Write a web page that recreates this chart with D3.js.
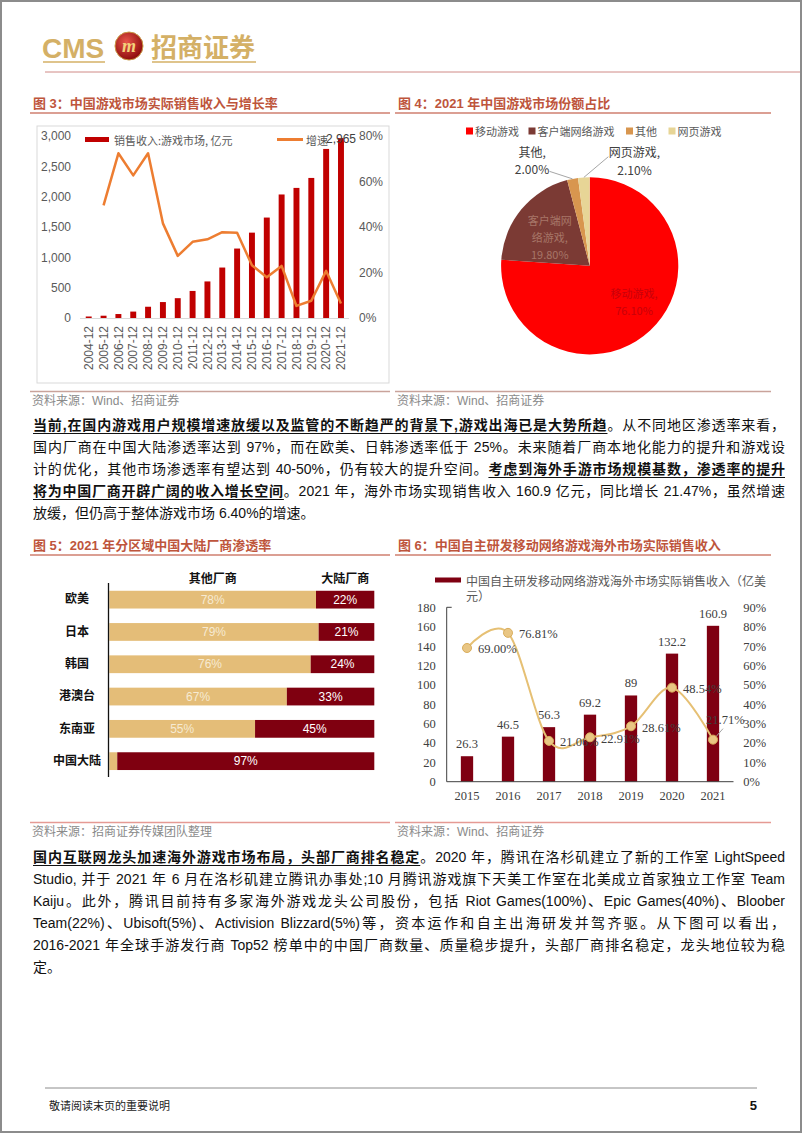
<!DOCTYPE html>
<html>
<head>
<meta charset="utf-8">
<script src="https://cdn.jsdelivr.net/npm/d3@7"></script>
<style>
  body { margin: 0; background: #fff; }
  #page { position: relative; width: 802px; height: 1133px; overflow: hidden; }
  #page svg { position: absolute; left: 0; top: 0; }
  .para { position: absolute; left: 33px; width: 752px; height: 22px; line-height: 22px;
          font-family: "Liberation Sans", "Noto Sans CJK SC", sans-serif; font-size: 14px; color: #111;
          text-align: justify; text-align-last: justify; }
  .para.last { text-align-last: left; }
  .para b { font-weight: bold; text-decoration: underline; text-underline-offset: 3px; }
</style>
</head>
<body>
<div id="page"></div>
<script>
// chart 3: market revenue & growth
const revYears = ["2004-12","2005-12","2006-12","2007-12","2008-12","2009-12","2010-12","2011-12","2012-12",
                  "2013-12","2014-12","2015-12","2016-12","2017-12","2018-12","2019-12","2020-12","2021-12"];
const revenue = [24.7, 37.7, 65.4, 105.7, 185.6, 262.8, 326.7, 446.1, 602.8, 831.7, 1144.8, 1407.0,
                 1655.7, 2036.1, 2144.4, 2308.8, 2786.9, 2965.1];
const growthRate = [null, 49.5, 72.4, 62.7, 72.4, 41.6, 27.3, 33.5, 34.6, 37.7, 37.5, 23.2, 17.9, 22.9, 5.3, 7.6, 20.7, 6.4];
const revTicks = [0, 500, 1000, 1500, 2000, 2500, 3000];
const rateTicks = [0, 20, 40, 60, 80];

// chart 4: market share 2021
const shareNames = ["移动游戏", "客户端网络游戏", "其他", "网页游戏"];
const shareValues = [76.10, 19.80, 2.00, 2.10];
const shareColors = ["#ff0000", "#7b3a34", "#d8964f", "#e7d596"];

// chart 5: penetration by region
const regions = ["欧美", "日本", "韩国", "港澳台", "东南亚", "中国大陆"];
const otherShare = [78, 79, 76, 67, 55, 3];
const mainlandShare = [22, 21, 24, 33, 45, 97];

// chart 6: overseas revenue
const osYears = ["2015", "2016", "2017", "2018", "2019", "2020", "2021"];
const osRevenue = [26.3, 46.5, 56.3, 69.2, 89, 132.2, 160.9];
const osGrowth = [69.00, 76.81, 21.06, 22.91, 28.61, 48.54, 21.71];
const osRevTicks = [0, 20, 40, 60, 80, 100, 120, 140, 160, 180];
const osRateTicks = [0, 10, 20, 30, 40, 50, 60, 70, 80, 90];

const sans = "'Liberation Sans', 'Noto Sans CJK SC', sans-serif";
const cjk = "'Noto Sans CJK SC', sans-serif";
const serif = "'Liberation Serif', 'Noto Sans CJK SC', serif";
const titleColor = "#be553c";

const page = d3.select("#page");
const svg = page.append("svg").attr("width", 802).attr("height", 1133);

// page frame
svg.append("rect").attr("x", 1).attr("y", 1).attr("width", 800).attr("height", 1131)
   .attr("fill", "none").attr("stroke", "#8c8c8c").attr("stroke-width", 2);

// ---------- header ----------
const gold = "#d4b066";
svg.append("text").attr("x", 42).attr("y", 58).text("CMS")
   .style("font", "bold 28px 'Liberation Sans'").attr("fill", gold);
const grad = svg.append("defs").append("radialGradient").attr("id", "logoGrad")
   .attr("cx", "40%").attr("cy", "35%").attr("r", "65%");
grad.append("stop").attr("offset", "0%").attr("stop-color", "#e8554a");
grad.append("stop").attr("offset", "100%").attr("stop-color", "#8e0d0d");
svg.append("circle").attr("cx", 129).attr("cy", 46).attr("r", 14).attr("fill", "url(#logoGrad)")
   .attr("stroke", "#c99a45").attr("stroke-width", 1);
svg.append("text").attr("x", 129).attr("y", 52).attr("text-anchor", "middle").text("m")
   .style("font", "italic bold 18px 'Liberation Serif'").attr("fill", "#f3d27a");
svg.append("text").attr("x", 151).attr("y", 57).text("招商证券")
   .style("font", "bold 26px 'Noto Sans CJK SC'").attr("fill", gold);
svg.append("line").attr("x1", 43).attr("x2", 105).attr("y1", 62).attr("y2", 62).attr("stroke", gold).attr("stroke-width", 1.5);
svg.append("line").attr("x1", 152).attr("x2", 256).attr("y1", 62).attr("y2", 62).attr("stroke", gold).attr("stroke-width", 1.5);
svg.append("line").attr("x1", 45).attr("x2", 800).attr("y1", 72).attr("y2", 72).attr("stroke", "#d08a86").attr("stroke-width", 1);

function figTitle(x, y, txt, x2) {
  svg.append("text").attr("x", x).attr("y", y).attr("dominant-baseline", "central").text(txt)
     .style("font", "bold 13px " + sans).attr("fill", titleColor);
  svg.append("line").attr("x1", x - 3).attr("x2", x2).attr("y1", y + 10).attr("y2", y + 10)
     .attr("stroke", "#cf7f6f").attr("stroke-width", 1.5);
}
function source(x, y, txt, x2, lineColor) {
  svg.append("line").attr("x1", x - 2).attr("x2", x2).attr("y1", y - 9.5).attr("y2", y - 9.5)
     .attr("stroke", lineColor).attr("stroke-width", 1.5);
  svg.append("text").attr("x", x).attr("y", y).attr("dominant-baseline", "central").text(txt)
     .style("font", "12px " + sans).attr("fill", "#8a8a8a");
}

// ---------- chart 3 ----------
figTitle(33, 103, "图 3：中国游戏市场实际销售收入与增长率", 390);
source(32, 401, "资料来源：Wind、招商证券", 390, "#c9a39b");

const g3 = svg.append("g");
g3.append("rect").attr("x", 37).attr("y", 126).attr("width", 352).attr("height", 257)
  .attr("fill", "none").attr("stroke", "#d9d9d9");

const x3 = d3.scaleBand().domain(revYears).range([81.3, 348.4]).paddingInner(0.6).paddingOuter(0.3);
const y3 = d3.scaleLinear().domain([0, 3000]).range([318, 136]);
const r3 = d3.scaleLinear().domain([0, 80]).range([318, 136]);

g3.append("g").attr("transform", "translate(71,0)")
  .call(d3.axisLeft(y3).tickValues(revTicks).tickSize(0).tickPadding(0).tickFormat(d3.format(",")))
  .call(g => g.select(".domain").remove())
  .selectAll("text").attr("fill", "#595959").style("font", "12px " + sans);

g3.append("g").attr("transform", "translate(359,0)")
  .call(d3.axisRight(r3).tickValues(rateTicks).tickSize(0).tickPadding(0).tickFormat(d => d + "%"))
  .call(g => g.select(".domain").remove())
  .selectAll("text").attr("fill", "#595959").style("font", "12px " + sans);

g3.selectAll(".bar").data(revenue).join("rect")
  .attr("x", (d, i) => x3(revYears[i])).attr("width", x3.bandwidth())
  .attr("y", d => y3(d)).attr("height", d => y3(0) - y3(d)).attr("fill", "#c00000");

const xa3 = g3.append("g").attr("transform", "translate(0,318)")
  .call(d3.axisBottom(x3).tickSize(0).tickSizeOuter(0));
xa3.select(".domain").attr("stroke", "#d9d9d9").attr("d", "M80,0.5H349");
xa3.selectAll("text").attr("transform", "rotate(-90)").attr("x", -8).attr("y", 0).attr("dy", "0.35em")
   .attr("text-anchor", "end").attr("fill", "#595959").style("font", "12px " + sans);

const line3 = d3.line().defined(d => d != null)
  .x((d, i) => x3(revYears[i]) + x3.bandwidth() / 2).y(d => r3(d));
g3.append("path").datum(growthRate).attr("d", line3).attr("fill", "none")
  .attr("stroke", "#ed7d31").attr("stroke-width", 2.5).attr("stroke-linejoin", "round");

// legend
g3.append("rect").attr("x", 85).attr("y", 137).attr("width", 24).attr("height", 5).attr("fill", "#c00000");
g3.append("text").attr("x", 114).attr("y", 139.5).attr("dominant-baseline", "central")
  .text("销售收入:游戏市场, 亿元").style("font", "11px " + cjk).attr("fill", "#595959");
g3.append("line").attr("x1", 277).attr("x2", 303).attr("y1", 139.5).attr("y2", 139.5)
  .attr("stroke", "#ed7d31").attr("stroke-width", 3);
g3.append("text").attr("x", 306).attr("y", 139.5).attr("dominant-baseline", "central")
  .text("增速").style("font", "11px " + cjk).attr("fill", "#595959");
const last = revenue.length - 1;
g3.append("text").attr("x", x3(revYears[last]) + x3.bandwidth() / 2).attr("y", y3(revenue[last]) + 1)
  .attr("text-anchor", "middle").attr("dominant-baseline", "central")
  .text(d3.format(",.0f")(revenue[last])).style("font", "12px " + sans).attr("fill", "#404040");

// ---------- chart 4 ----------
figTitle(398, 103, "图 4：2021 年中国游戏市场份额占比", 771);
source(397, 401, "资料来源：Wind、招商证券", 771, "#c9a39b");

const g4 = svg.append("g");
const legendX4 = [466, 528.5, 626, 668.5];
shareNames.forEach((n, i) => {
  g4.append("rect").attr("x", legendX4[i]).attr("y", 127.5).attr("width", 7).attr("height", 7).attr("fill", shareColors[i]);
  g4.append("text").attr("x", legendX4[i] + 9).attr("y", 131).attr("dominant-baseline", "central")
    .text(n).style("font", "11px " + cjk).attr("fill", "#595959");
});

const cx4 = 589.7, cy4 = 265.8, R4 = 88.6;
const pie = d3.pie().sort(null).value(d => d)(shareValues);
const arc4 = d3.arc().innerRadius(0).outerRadius(R4);
const pg = g4.append("g").attr("transform", `translate(${cx4},${cy4})`);
pg.selectAll("path").data(pie).join("path").attr("d", arc4).attr("fill", (d, i) => shareColors[i]);

const labelArc = d3.arc().innerRadius(R4 * 0.6).outerRadius(R4 * 0.6);
// inside labels
const inside = [
  { i: 0, lines: ["移动游戏,", "76.10%"], color: "#c8000a", dx: 8, dy: -3 },
  { i: 1, lines: ["客户端网", "络游戏,", "19.80%"], color: "#a77668", dx: 1, dy: 5 }
];
inside.forEach(o => {
  const c = labelArc.centroid(pie[o.i]);
  const n = o.lines.length;
  o.lines.forEach((t, k) => {
    pg.append("text").attr("x", c[0] + o.dx).attr("y", c[1] + o.dy + (k - (n - 1) / 2) * 17)
      .attr("text-anchor", "middle").attr("dominant-baseline", "central")
      .text(t).style("font", "11px " + cjk).attr("fill", o.color);
  });
});
// outside labels with leader lines
const outside = [
  { i: 2, lines: ["其他,", "2.00%"], lx: -40.5, ly: -19, ex: -23, ey: -7.5 },
  { i: 3, lines: ["网页游戏,", "2.10%"], lx: 50.7, ly: -17, ex: 24.5, ey: -20.7 }
];
outside.forEach(o => {
  const a = (pie[o.i].startAngle + pie[o.i].endAngle) / 2;
  const px = R4 * Math.sin(a), py = -R4 * Math.cos(a);
  pg.append("line").attr("x1", px).attr("y1", py).attr("x2", px + o.ex).attr("y2", py + o.ey)
    .attr("stroke", "#a6a6a6").attr("stroke-width", 1);
  o.lines.forEach((t, k) => {
    pg.append("text").attr("x", px + o.lx).attr("y", py + o.ly + (k - 0.5) * 17.5)
      .attr("text-anchor", "middle").attr("dominant-baseline", "central")
      .text(t).style("font", "12px " + cjk).attr("fill", "#404040");
  });
});

// ---------- chart 5 ----------
figTitle(33, 545, "图 5：2021 年分区域中国大陆厂商渗透率", 390);
source(32, 832, "资料来源：招商证券传媒团队整理", 390, "#e59a94");

const g5 = svg.append("g");
const y5 = d3.scaleBand().domain(regions).range([583.5, 777.3]).paddingInner(0.45).paddingOuter(0.225);
const x5 = d3.scaleLinear().domain([0, 100]).range([109.3, 374.3]);

g5.append("text").attr("x", x5(39)).attr("y", 577).attr("text-anchor", "middle").attr("dominant-baseline", "central")
  .text("其他厂商").style("font", "bold 12px " + cjk).attr("fill", "#111");
g5.append("text").attr("x", x5(89)).attr("y", 577).attr("text-anchor", "middle").attr("dominant-baseline", "central")
  .text("大陆厂商").style("font", "bold 12px " + cjk).attr("fill", "#111");

g5.selectAll(".o").data(otherShare).join("rect")
  .attr("x", x5(0)).attr("y", (d, i) => y5(regions[i])).attr("height", y5.bandwidth())
  .attr("width", d => x5(d) - x5(0)).attr("fill", "#e4bd78");
g5.selectAll(".m").data(mainlandShare).join("rect")
  .attr("x", (d, i) => x5(otherShare[i])).attr("y", (d, i) => y5(regions[i])).attr("height", y5.bandwidth())
  .attr("width", d => x5(d) - x5(0)).attr("fill", "#7f0010");

otherShare.forEach((d, i) => {
  if (d >= 10) {
    g5.append("text").attr("x", (x5(0) + x5(d)) / 2).attr("y", y5(regions[i]) + y5.bandwidth() / 2)
      .attr("text-anchor", "middle").attr("dominant-baseline", "central")
      .text(d + "%").style("font", "12px " + sans).attr("fill", "#f6ead2");
  }
});
mainlandShare.forEach((d, i) => {
  g5.append("text").attr("x", (x5(otherShare[i]) + x5(100)) / 2).attr("y", y5(regions[i]) + y5.bandwidth() / 2)
    .attr("text-anchor", "middle").attr("dominant-baseline", "central")
    .text(d + "%").style("font", "12px " + sans).attr("fill", "#ffffff");
});

g5.append("g").attr("transform", "translate(108.5,0)")
  .call(d3.axisLeft(y5).tickSize(0).tickPadding(0))
  .call(g => g.select(".domain").attr("stroke", "#111").attr("stroke-width", 1.3).attr("d", "M0,583H0V777"))
  .selectAll("text").attr("x", -31.5).attr("text-anchor", "middle")
  .style("font", "bold 12px " + cjk).attr("fill", "#111");

// ---------- chart 6 ----------
figTitle(398, 545, "图 6：中国自主研发移动网络游戏海外市场实际销售收入", 771);
source(397, 832, "资料来源：Wind、招商证券", 771, "#e59a94");

const g6 = svg.append("g");
const x6 = d3.scaleBand().domain(osYears).range([446.5, 733.5]).paddingInner(0.7).paddingOuter(0.35);
const y6 = d3.scaleLinear().domain([0, 180]).range([781.7, 607.3]);
const r6 = d3.scaleLinear().domain([0, 90]).range([781.7, 607.3]);
const barColor6 = "#7f0012";

g6.append("rect").attr("x", 435).attr("y", 577.5).attr("width", 26).attr("height", 5).attr("fill", barColor6);
g6.append("text").attr("x", 466).attr("y", 580).attr("dominant-baseline", "central")
  .text("中国自主研发移动网络游戏海外市场实际销售收入（亿美").style("font", "12px " + cjk).attr("fill", "#595959");
g6.append("text").attr("x", 466).attr("y", 595).attr("dominant-baseline", "central")
  .text("元）").style("font", "12px " + cjk).attr("fill", "#595959");

g6.append("g").attr("transform", "translate(446.7,0)")
  .call(d3.axisLeft(y6).tickValues(osRevTicks).tickSize(0).tickPadding(11))
  .call(g => g.select(".domain").attr("stroke", "#404040").attr("d", "M5,607.3H0V781.7"))
  .selectAll("text").style("font", "12.5px " + serif).attr("fill", "#404040");

g6.append("g").attr("transform", "translate(743.3,0)")
  .call(d3.axisRight(r6).tickValues(osRateTicks).tickSize(0).tickPadding(0).tickFormat(d => d + "%"))
  .call(g => g.select(".domain").remove())
  .selectAll("text").style("font", "12.5px " + serif).attr("fill", "#404040");

g6.selectAll(".b").data(osRevenue).join("rect")
  .attr("x", (d, i) => x6(osYears[i])).attr("width", x6.bandwidth())
  .attr("y", d => y6(d)).attr("height", d => y6(0) - y6(d)).attr("fill", barColor6);

g6.append("g").attr("transform", "translate(0,781.7)")
  .call(d3.axisBottom(x6).tickSize(0).tickPadding(9).tickSizeOuter(0))
  .call(g => g.select(".domain").attr("stroke", "#404040").attr("d", "M446.7,0H733.5"))
  .selectAll("text").style("font", "12.5px " + serif).attr("fill", "#404040");

const cx6 = i => x6(osYears[i]) + x6.bandwidth() / 2;
osRevenue.forEach((d, i) => {
  g6.append("text").attr("x", cx6(i)).attr("y", y6(d) - 12).attr("text-anchor", "middle")
    .attr("dominant-baseline", "central").text(d).style("font", "12.5px " + serif).attr("fill", "#404040");
});

const line6 = d3.line().curve(d3.curveCatmullRom.alpha(0)).x((d, i) => cx6(i)).y(d => r6(d));
g6.append("path").datum(osGrowth).attr("d", line6).attr("fill", "none")
  .attr("stroke", "#e6c074").attr("stroke-width", 2);

osGrowth.forEach((d, i) => {
  const lastPt = i === osGrowth.length - 1;
  const lx = lastPt ? cx6(i) - 7 : cx6(i) + 11;
  const ly = lastPt ? r6(d) - 20 : r6(d) + 1.5;
  if (lastPt) {
    g6.append("line").attr("x1", cx6(i) + 3).attr("y1", r6(d) - 3).attr("x2", cx6(i) + 10).attr("y2", r6(d) - 11)
      .attr("stroke", "#a6a6a6");
  }
  g6.append("text").attr("x", lx).attr("y", ly).attr("dominant-baseline", "central")
    .text(d.toFixed(2) + "%").style("font", "12.5px " + serif).attr("fill", "#404040");
});
g6.selectAll(".pt").data(osGrowth).join("circle")
  .attr("cx", (d, i) => cx6(i)).attr("cy", d => r6(d)).attr("r", 4.5)
  .attr("fill", "#e9c684").attr("stroke", "#d9ad5c").attr("stroke-width", 1);

// ---------- body text ----------
const para1 = [
  [["b", "当前,在国内游戏用户规模增速放缓以及监管的不断趋严的背景下,游戏出海已是大势所趋"], ["", "。从不同地区渗透率来看，"]],
  [["", "国内厂商在中国大陆渗透率达到 97%，而在欧美、日韩渗透率低于 25%。未来随着厂商本地化能力的提升和游戏设"]],
  [["", "计的优化，其他市场渗透率有望达到 40-50%，仍有较大的提升空间。"], ["b", "考虑到海外手游市场规模基数，渗透率的提升"]],
  [["b", "将为中国厂商开辟广阔的收入增长空间"], ["", "。2021 年，海外市场实现销售收入 160.9 亿元，同比增长 21.47%，虽然增速"]],
  [["", "放缓，但仍高于整体游戏市场 6.40%的增速。"]]
];
const para2 = [
  [["b", "国内互联网龙头加速海外游戏市场布局，头部厂商排名稳定"], ["", "。2020 年，腾讯在洛杉矶建立了新的工作室 LightSpeed"]],
  [["", "Studio, 并于 2021 年 6 月在洛杉矶建立腾讯办事处;10 月腾讯游戏旗下天美工作室在北美成立首家独立工作室 Team"]],
  [["", "Kaiju。此外，腾讯目前持有多家海外游戏龙头公司股份，包括 Riot Games(100%)、Epic Games(40%)、Bloober"]],
  [["", "Team(22%)、Ubisoft(5%)、Activision Blizzard(5%)等，资本运作和自主出海研发并驾齐驱。从下图可以看出，"]],
  [["", "2016-2021 年全球手游发行商 Top52 榜单中的中国厂商数量、质量稳步提升，头部厂商排名稳定，龙头地位较为稳"]],
  [["", "定。"]]
];
function drawPara(lines, y0, step) {
  lines.forEach((segs, k) => {
    const div = page.append("div").attr("class", "para" + (k === lines.length - 1 ? " last" : ""))
      .style("top", (y0 + k * step - 11) + "px");
    segs.forEach(s => {
      if (s[0] === "b") div.append("b").text(s[1]);
      else div.append("span").text(s[1]);
    });
  });
}
drawPara(para1, 425, 22);
drawPara(para2, 857, 22);

// ---------- footer ----------
svg.append("line").attr("x1", 45).attr("x2", 757).attr("y1", 1088).attr("y2", 1088).attr("stroke", "#8c8c8c").attr("stroke-width", 1);
svg.append("text").attr("x", 49).attr("y", 1105).attr("dominant-baseline", "central")
   .text("敬请阅读末页的重要说明").style("font", "11px " + cjk).attr("fill", "#222");
svg.append("text").attr("x", 757).attr("y", 1105).attr("text-anchor", "end").attr("dominant-baseline", "central")
   .text("5").style("font", "bold 13px " + sans).attr("fill", "#111");
</script>
</body>
</html>
